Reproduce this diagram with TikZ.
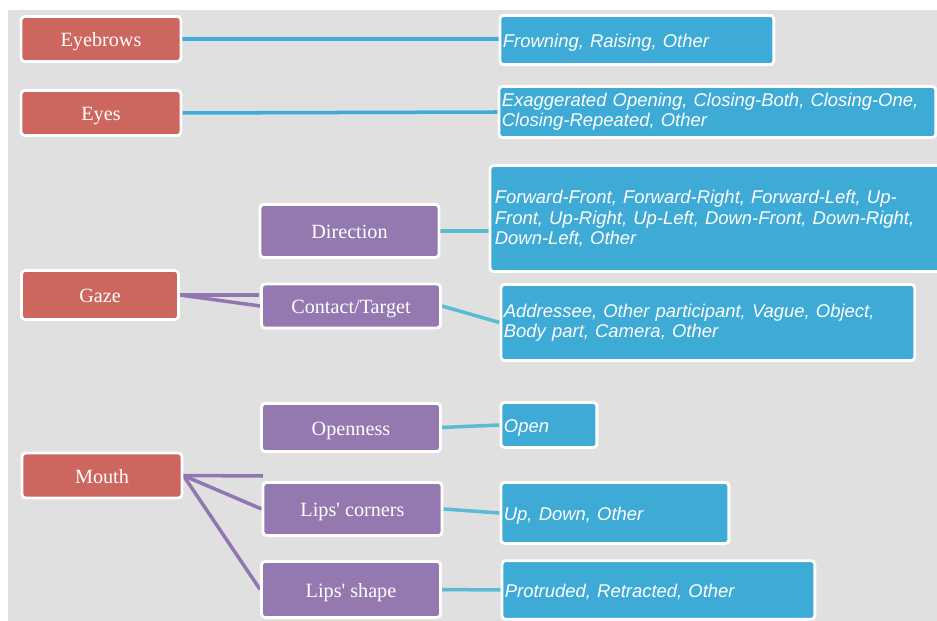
\documentclass[tikz,border=0pt]{standalone}
\usepackage{fontspec}
\setmainfont{Liberation Serif}
\newfontfamily\valfont{Liberation Sans}
\usepackage{xcolor}
\usepackage{tikz}
\usetikzlibrary{positioning, calc, backgrounds}
\definecolor{bggray}{RGB}{224, 224, 224}
\definecolor{featred}{RGB}{205, 102, 95}
\definecolor{subpurple}{RGB}{148, 121, 176}
\definecolor{valblue}{RGB}{62, 170, 214}
\definecolor{linkblue}{RGB}{62, 172, 216}
\definecolor{linkteal}{RGB}{90, 188, 212}
\definecolor{linkpurple}{RGB}{145, 119, 178}

\tikzset{
    box/.style={draw=white, line width=1.6pt, rounded corners=2pt, inner sep=1pt, text=white},
    featbox/.style={box, fill=featred, font=\fontsize{11.5}{13}\selectfont, minimum width=3.2cm, minimum height=0.9cm, text height=9pt, text depth=0pt},
    subbox/.style={box, fill=subpurple, font=\fontsize{11.5}{13}\selectfont, minimum width=3.58cm, text height=9pt, text depth=0pt},
    valbox/.style={box, fill=valblue, font=\valfont\itshape\fontsize{10.5}{11.6}\selectfont, align=left, anchor=west, inner xsep=0.06cm},
    oneline/.style={text height=9pt, text depth=0pt},
    toval/.style={line width=2pt, linkblue},
    subval/.style={line width=2pt, linkteal},
    tosub/.style={line width=2pt, linkpurple}
}

\begin{document}
\begin{tikzpicture}[x=0.02cm, y=-0.02cm]
    \clip (0, 0) rectangle (937, 621);

    % Features
    \node[featbox] (eyebrows) at (101, 39) {Eyebrows};
    \node[featbox] (eyes) at (101, 113) {Eyes};
    \node[featbox, minimum width=3.14cm, minimum height=0.98cm] (gaze) at (100, 295) {Gaze};
    \node[featbox] (mouth) at (102, 475.5) {Mouth};

    % Sub-features
    \node[subbox, minimum height=1.06cm] (direction) at (349.5, 231) {Direction};
    \node[subbox, minimum height=0.88cm] (contact) at (351, 306) {Contact/Target};
    \node[subbox, minimum height=0.96cm] (openness) at (351, 427.5) {Openness};
    \node[subbox, minimum height=1.06cm] (corners) at (352.5, 509) {Lips\textquotesingle{} corners};
    \node[subbox, minimum height=1.12cm] (shape) at (351, 589.5) {Lips\textquotesingle{} shape};

    % Values
    \node[valbox, oneline, text width=5.36cm, minimum height=0.98cm] (vbrows) at (498.5, 40) {Frowning, Raising, Other};
    \node[valbox, text width=8.62cm, minimum height=1.02cm] (veyes) at (497.5, 112) {Exaggerated Opening, Closing-Both, Closing-One,\\Closing-Repeated, Other};
    \node[valbox, text width=9.12cm, minimum height=2.12cm, inner xsep=0.1cm] (vdir) at (488.5, 218.5) {Forward-Front, Forward-Right, Forward-Left, Up-\\Front, Up-Right, Up-Left, Down-Front, Down-Right,\\Down-Left, Other\\[0.3em]};
    \node[valbox, text width=8.16cm, minimum height=1.52cm] (vcontact) at (499.5, 322.5) {Addressee, Other participant, Vague, Object,\\Body part, Camera, Other};
    \node[valbox, oneline, text width=1.8cm, minimum height=0.9cm] (vopen) at (499.5, 425) {Open};
    \node[valbox, oneline, text width=4.44cm, minimum height=1.22cm] (vcorners) at (499.5, 513) {Up, Down, Other};
    \node[valbox, oneline, text width=6.14cm, minimum height=1.17cm] (vshape) at (500.5, 590) {Protruded, Retracted, Other};

    \coordinate (gazeup) at (259, 295);
    \coordinate (mouthup) at (263, 476);

    \begin{pgfonlayer}{background}
        \fill[bggray] (8, 10) rectangle (937, 621);
        % links
        \draw[toval] (eyebrows.east) -- (eyebrows.east -| vbrows.west);
        \draw[toval] (eyes.east) -- (veyes.west);
        \draw[tosub] (gaze.east) -- (gazeup);
        \draw[tosub] (gaze.east) -- (contact.west);
        \draw[tosub] (mouth.east) -- (mouthup);
        \draw[tosub] (mouth.east) -- (corners.west);
        \draw[tosub] (mouth.east) -- (shape.west);
        \draw[subval] (direction.east) -- (direction.east -| vdir.west);
        \draw[subval] (contact.east) -- (vcontact.west);
        \draw[subval] (openness.east) -- (vopen.west);
        \draw[subval] (corners.east) -- (vcorners.west);
        \draw[subval] (shape.east) -- (vshape.west);
    \end{pgfonlayer}
\end{tikzpicture}
\end{document}
